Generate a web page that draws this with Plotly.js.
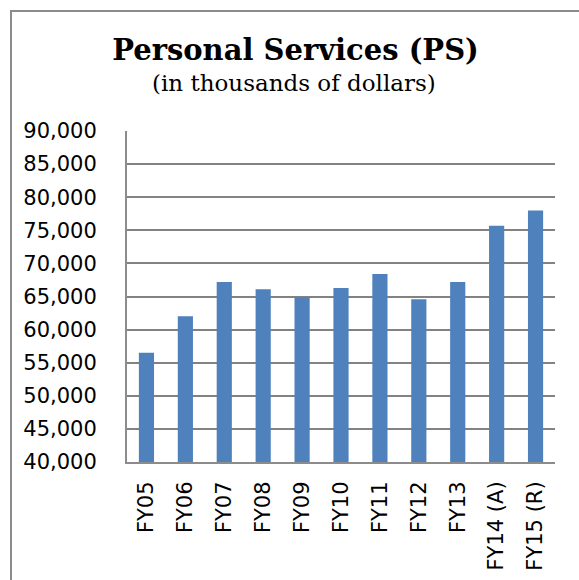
<!DOCTYPE html>
<html>
<head>
<meta charset="utf-8">
<script src="https://cdn.plot.ly/plotly-3.0.1.min.js"></script>
<style>
  html, body { margin: 0; padding: 0; background: #ffffff; }
  #frame { position: absolute; left: 10px; top: 10px; width: 567px; height: 568px;
           border-left: 2px solid #8c8c8c; border-top: 2px solid #8c8c8c; }
  #chart { width: 567px; height: 568px; }
</style>
</head>
<body>
<div id="frame"><div id="chart"></div></div>
<script>
const categories = ["FY05", "FY06", "FY07", "FY08", "FY09", "FY10", "FY11", "FY12", "FY13", "FY14 (A)", "FY15 (R)"];
const psValues = [56500, 62000, 67200, 66100, 64900, 66300, 68400, 64600, 67200, 75700, 78000];
const yTicks = [40000, 45000, 50000, 55000, 60000, 65000, 70000, 75000, 80000, 85000, 90000];
const yTickLabels = ["40,000", "45,000", "50,000", "55,000", "60,000", "65,000", "70,000", "75,000", "80,000", "85,000", "90,000"];
const titleText = "Personal Services (PS)";
const subtitleText = "(in thousands of dollars)";

const trace = {
  type: "bar",
  x: categories,
  y: psValues,
  base: 0,
  marker: { color: "#4F81BD", line: { width: 0 } },
  hoverinfo: "x+y"
};

const layout = {
  width: 567,
  height: 568,
  margin: { l: 115, r: 24, t: 119, b: 118 },
  paper_bgcolor: "#ffffff",
  plot_bgcolor: "#ffffff",
  showlegend: false,
  bargap: 0.61,
  title: {
    text: "<b>" + titleText + "</b>",
    font: { family: "DejaVu Serif", size: 29, color: "#000000" },
    x: 0.5, xref: "container", xanchor: "center",
    y: 1 - 38 / 568, yref: "container", yanchor: "middle"
  },
  annotations: [{
    text: subtitleText,
    xref: "paper", yref: "paper",
    x: (282 - 115) / 428, y: 1 + (119 - 71) / 331,
    xanchor: "center", yanchor: "middle",
    showarrow: false,
    font: { family: "DejaVu Serif", size: 23, color: "#000000" }
  }],
  xaxis: {
    type: "category",
    tickangle: -90,
    tickfont: { family: "DejaVu Sans", size: 21, color: "#000000" },
    ticks: "",
    ticklabelstandoff: 9,
    showline: true, linecolor: "#8c8c8c", linewidth: 2,
    showgrid: false,
    fixedrange: true
  },
  yaxis: {
    range: [40000, 90000],
    tickmode: "array",
    tickvals: yTicks,
    ticktext: yTickLabels,
    tickfont: { family: "DejaVu Sans", size: 21, color: "#000000" },
    ticks: "",
    ticklabelstandoff: 24,
    showline: true, linecolor: "#8c8c8c", linewidth: 2,
    showgrid: true, gridcolor: "#828282", gridwidth: 2,
    zeroline: false,
    fixedrange: true
  }
};

Plotly.newPlot("chart", [trace], layout, { displayModeBar: false, staticPlot: true });
</script>
</body>
</html>
